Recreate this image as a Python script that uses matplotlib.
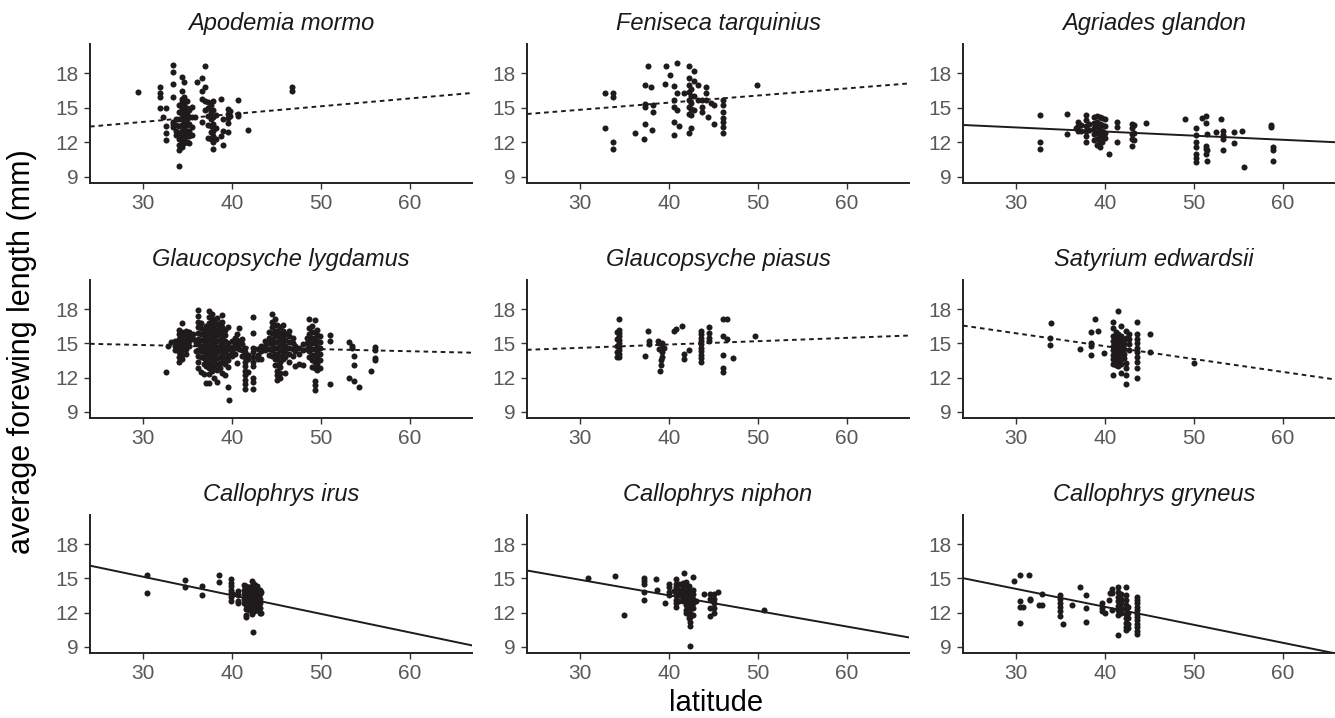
import numpy as np
import matplotlib.pyplot as plt

plt.rcParams['font.family'] = ['Liberation Sans', 'DejaVu Sans']

# species shown in each facet (row by row)
species = ["Apodemia mormo", "Feniseca tarquinius", "Agriades glandon",
           "Glaucopsyche lygdamus", "Glaucopsyche piasus", "Satyrium edwardsii",
           "Callophrys irus", "Callophrys niphon", "Callophrys gryneus"]

# fitted line per species: intercept (at latitude 0) and slope
fit_intercept = [11.73, 12.97, 14.36, 15.39, 13.73, 19.26, 20.01, 18.96, 18.79]
fit_slope = [0.068, 0.0619, -0.0358, -0.0181, 0.0291, -0.1128, -0.1626, -0.1365, -0.1574]
significant = [False, False, True, False, False, False, True, True, True]

# points: (latitude, [forewing lengths at that latitude])
apodemia = [
    (29.4, [16.4]), (31.9, [16.8, 16.3, 15.9, 15.0]), (32.2, [14.2]),
    (32.6, [15.0, 13.4, 12.8, 12.2]), (33.3, [18.7, 18.1, 17.1, 15.9, 13.8, 13.6, 13.3]),
    (33.7, [14.0, 13.5, 13.0, 12.6]),
    (34.0, [15.2, 14.6, 14.0, 13.4, 12.8, 12.3, 11.8, 11.3, 9.9]),
    (34.3, [17.7, 16.5, 15.8, 15.5, 15.0, 14.5, 14.0, 13.5, 13.0, 12.5, 12.0, 11.6]),
    (34.6, [17.2, 15.9, 15.3, 14.8, 14.3, 13.8, 13.3, 12.8, 12.3, 11.9]),
    (34.9, [15.6, 15.0, 14.5, 14.0, 13.5, 13.0, 12.5, 12.0]),
    (35.2, [14.8, 14.2, 13.6, 13.0, 12.5, 11.9]), (35.5, [15.1, 14.2, 13.3, 12.6]),
    (35.8, [14.2]), (36.0, [17.2]), (36.6, [17.6, 16.5, 15.8, 13.8]),
    (37.0, [18.6, 16.8, 15.6, 14.8]), (37.3, [15.5, 15.0, 14.3, 13.5, 12.4]),
    (37.6, [15.2, 14.6, 14.0, 13.4, 12.9, 12.3]),
    (37.9, [15.6, 14.8, 14.2, 13.6, 13.0, 12.5, 12.0, 11.4]), (38.2, [14.4, 13.2, 12.3]),
    (38.7, [15.8, 12.5]), (39.0, [14.0, 13.0, 11.8]), (39.5, [14.9, 14.5, 14.1, 13.7, 12.9]),
    (39.8, [14.7, 14.3]), (40.7, [15.7, 14.5, 14.3]), (41.8, [13.1]), (46.7, [16.8, 16.5]),
]
feniseca = [
    (32.8, [16.3, 13.25]), (33.7, [16.3, 15.9, 12.0, 11.4]), (36.2, [12.8]),
    (37.2, [12.3]), (37.3, [17.0, 15.3, 15.1, 13.6]), (37.6, [18.6]),
    (38.0, [16.8]), (38.1, [13.05]), (38.2, [15.2, 14.65]), (39.5, [17.1]),
    (39.7, [18.6]), (40.1, [17.85]), (40.6, [16.9, 15.7, 15.1, 13.8, 12.6]),
    (40.9, [18.9, 16.25, 14.8]), (41.1, [13.4]), (41.7, [16.25]),
    (42.2, [18.6, 17.55, 17.0, 16.4, 15.7, 15.1, 14.5, 12.8]),
    (42.5, [16.6, 16.0, 15.4, 14.9, 14.4, 13.2]), (42.8, [18.2, 17.3, 16.0, 14.8]),
    (43.3, [17.0, 15.7]), (43.7, [15.7, 15.1, 14.6]), (44.2, [16.8, 16.25, 15.7]),
    (44.4, [14.2]), (44.7, [15.4]), (45.1, [15.2, 13.6]),
    (46.1, [15.7, 15.2, 14.6, 14.1, 13.8, 13.3, 12.8]), (49.9, [17.0]),
]
agriades = [
    (32.7, [14.4, 12.0, 11.4]), (35.7, [14.5, 12.75]), (36.7, [13.2]),
    (37.0, [13.8, 13.4, 13.0]), (37.3, [13.5, 13.0]), (37.9, [14.4, 13.9, 13.4, 13.0, 12.5, 12.0]),
    (38.2, [13.6, 13.1]), (38.8, [14.2, 13.7, 13.2, 12.7, 12.2]),
    (39.1, [14.3, 13.8, 13.3, 12.8, 12.3, 11.8]), (39.4, [14.2, 13.6, 13.1, 12.6, 12.1, 11.6]),
    (39.7, [14.1, 13.5, 13.0, 12.5, 12.0]), (40.0, [14.0, 13.4, 12.8, 12.4]),
    (40.4, [11.0]), (41.3, [13.8, 13.3, 12.0]), (43.0, [13.6, 13.2, 12.7, 12.3, 11.7]),
    (43.3, [13.5, 12.8, 12.2]), (44.6, [13.7]), (49.0, [14.0]),
    (50.2, [13.2, 12.6, 12.0, 11.6, 11.0, 10.6, 10.3]), (50.9, [14.1]),
    (51.3, [11.7, 11.4, 11.0]), (51.4, [14.3, 13.7]), (51.5, [12.7, 11.3, 10.4]),
    (52.5, [12.9]), (53.0, [14.0]), (53.3, [13.0, 12.6, 12.3, 11.3]),
    (54.5, [12.85, 11.9]), (55.4, [13.0]), (55.6, [9.85]),
    (58.7, [13.5, 13.3]), (58.9, [11.6, 11.3, 10.4]),
]
lygdamus = [
    (32.6, [12.5]), (32.8, [14.8]), (33.1, [15.1]), (33.6, [15.2, 14.8, 14.4]),
    (34.0, [16.2, 15.8, 15.4, 15.0, 14.6, 14.2, 13.8, 13.4]),
    (34.4, [16.8, 16.0, 15.6, 15.2, 14.8, 14.4, 14.0, 13.6]),
    (34.8, [16.1, 15.7, 15.3, 14.9, 14.5, 14.1]), (35.2, [16.0, 15.6, 15.2, 14.8]),
    (35.6, [15.8, 15.4]), (35.9, [15.0, 14.3]),
    (36.2, [17.9, 17.4, 16.9, 16.4, 15.9, 15.4, 14.9, 14.4, 13.9, 13.4, 12.8]),
    (36.5, [16.8, 16.3, 15.8, 15.3, 14.8, 14.3, 13.8, 12.5]),
    (36.8, [16.2, 15.7, 15.2, 14.7, 14.2, 13.7, 13.2, 12.3]),
    (37.1, [16.5, 16.0, 15.5, 15.0, 14.5, 14.0, 13.5, 13.0, 11.5]),
    (37.4, [17.8, 17.3, 16.8, 16.3, 15.8, 15.3, 14.8, 14.3, 13.8, 13.3, 12.8, 12.3, 11.5]),
    (37.7, [17.6, 17.1, 16.6, 16.1, 15.6, 15.1, 14.6, 14.1, 13.6, 13.1, 12.6]),
    (38.0, [17.0, 16.5, 16.0, 15.5, 15.0, 14.5, 14.0, 13.5, 13.0, 12.0]),
    (38.3, [17.2, 16.7, 16.2, 15.7, 15.2, 14.7, 14.2, 13.7, 13.2, 12.7, 11.6]),
    (38.6, [16.8, 16.3, 15.8, 15.3, 14.8, 14.3, 13.8, 13.3, 12.8]),
    (38.9, [17.5, 16.9, 16.4, 15.9, 15.4, 14.9, 14.4, 13.9, 13.4, 12.4]),
    (39.2, [16.2, 15.7, 15.2, 14.7, 14.2, 13.7, 13.2, 12.2]),
    (39.5, [16.4, 15.0, 14.5, 14.0, 13.5, 12.9, 11.2]), (39.7, [10.05]),
    (40.0, [15.2, 14.7, 14.2, 13.9]), (40.3, [15.5, 15.0, 14.6, 14.1]),
    (40.6, [15.8, 15.3, 14.8, 13.3]), (40.8, [16.3, 15.0, 14.5]),
    (41.1, [15.4, 14.9, 14.4, 13.9]),
    (41.5, [14.6, 14.2, 13.8, 13.4, 13.0, 12.6, 12.2, 11.8, 11.4, 11.0]),
    (41.8, [14.0, 13.6, 12.5]),
    (42.4, [17.3, 15.9, 14.6, 14.2, 13.8, 13.4, 13.0, 12.0, 11.6, 11.0]),
    (42.9, [14.5, 14.0, 13.6]), (43.3, [14.8, 14.3, 13.6]), (43.7, [15.2, 14.8, 14.4]),
    (44.2, [16.0, 15.5, 15.0, 14.5, 14.0]),
    (44.5, [17.6, 16.9, 16.4, 15.9, 15.4, 14.9, 14.4, 13.9]),
    (44.8, [17.1, 16.6, 16.1, 15.6, 15.1, 14.6, 14.1, 13.6, 13.1]),
    (45.1, [16.6, 16.1, 15.6, 15.1, 14.6, 14.1, 13.6, 13.1, 12.6, 12.2, 11.8]),
    (45.4, [16.4, 15.9, 15.4, 14.9, 14.4, 13.9, 13.4, 12.9, 12.4, 12.0]),
    (45.7, [16.6, 16.1, 15.6, 15.1, 14.6, 14.1, 13.6]),
    (46.0, [15.8, 15.3, 14.8, 14.3, 13.8, 12.4]),
    (46.4, [16.1, 15.6, 15.1, 14.6, 14.1, 13.4]), (46.8, [15.5, 15.0, 14.5, 13.9]),
    (47.1, [14.8, 14.3, 13.0]), (47.5, [14.6, 14.1, 13.2]), (48.0, [14.9, 14.4, 13.1]),
    (48.4, [15.5, 15.0, 14.5]), (48.7, [17.1, 16.3, 15.8, 15.3, 14.8, 14.3, 13.8]),
    (49.0, [16.5, 16.0, 15.5, 15.0, 14.5, 14.0, 13.5, 12.9]),
    (49.3, [17.0, 16.0, 15.5, 15.0, 14.5, 14.0, 13.4, 12.8, 11.7, 11.3, 10.9]),
    (49.6, [16.2, 15.7, 15.2, 14.7, 14.2, 13.7, 13.2, 12.7]),
    (49.9, [15.6, 15.1, 14.6, 14.1, 13.5, 12.8]),
    (51.0, [15.7, 15.2, 11.4]), (53.2, [15.1, 12.0]), (53.5, [14.8, 14.6]),
    (53.7, [13.9, 13.1, 11.7]), (54.3, [11.15]), (55.6, [12.6]),
    (56.1, [14.65, 14.4, 13.7, 13.5]),
]
piasus = [
    (34.1, [16.0, 15.4, 14.8, 14.2, 13.8]),
    (34.3, [17.1, 16.2, 15.9, 15.6, 15.3, 15.0, 14.7, 14.4, 14.1, 13.8]),
    (37.3, [13.9]), (37.6, [16.1]), (37.7, [15.2, 14.9]), (38.7, [15.2]),
    (38.9, [15.0, 14.5]), (39.0, [12.55]), (39.1, [13.5, 13.1]),
    (39.2, [15.0, 14.6, 14.2, 13.8]), (39.4, [14.6]), (40.6, [16.1]), (40.8, [16.25]),
    (41.4, [16.5]), (41.7, [14.1, 13.6]), (42.2, [14.4]),
    (43.6, [16.1, 15.8, 15.5, 15.2, 14.9, 14.6, 14.3, 14.0, 13.7, 13.4]),
    (44.5, [16.4, 15.9, 15.5, 15.2]), (46.1, [17.1, 15.6, 14.0, 12.8, 12.5]),
    (46.5, [17.1, 15.4]), (47.2, [13.7]), (49.7, [15.6]),
]
satyrium = [
    (33.8, [15.5, 14.85]), (33.9, [16.8]), (37.2, [14.5]), (38.4, [16.0, 15.0, 14.8, 14.0]),
    (38.9, [17.1]), (39.2, [16.1]), (39.9, [14.15]),
    (40.9, [16.9, 16.3, 15.6, 15.2, 14.8, 14.4, 14.0, 13.6, 13.2, 12.25]),
    (41.2, [16.0, 15.5, 15.1, 14.7, 14.3, 13.9, 13.5, 13.1]),
    (41.4, [17.8]), (41.5, [15.8, 15.4, 15.0, 14.6, 14.2, 13.8, 13.4, 13.0]),
    (41.8, [16.55, 15.6, 15.2, 14.8, 14.4, 14.0, 13.6, 13.2, 12.4]),
    (42.1, [15.3, 14.9, 14.5, 14.1, 13.7]),
    (42.4, [16.1, 15.5, 13.3, 12.8, 12.2, 11.45]), (42.7, [15.8, 15.4, 14.9, 14.4]),
    (43.6, [16.9, 15.8, 15.4, 15.0, 14.6, 14.2, 13.8, 13.4, 12.85, 12.0]),
    (45.1, [15.8, 14.2]), (50.0, [13.25]),
]
irus = [
    (30.4, [15.3, 13.75]), (34.7, [14.85, 14.2]), (36.6, [14.35, 13.5]), (38.5, [15.3, 14.7]),
    (39.9, [14.9, 14.6, 14.3, 14.0, 13.7, 13.4, 13.0]), (40.1, [13.6]),
    (40.7, [13.9, 13.5, 13.0, 12.8]), (41.3, [14.4, 14.0, 13.6, 13.2, 12.8]),
    (41.6, [14.3, 13.9, 13.5, 13.1, 12.7, 12.3, 11.8, 11.6]),
    (41.9, [14.2, 13.8, 13.4, 13.0, 12.6, 12.2]),
    (42.2, [14.8, 14.3, 13.9, 13.5, 13.1, 12.7, 12.3, 11.9]), (42.3, [10.3]),
    (42.5, [14.5, 14.1, 13.7, 13.3, 12.9, 12.5, 12.1]),
    (42.8, [14.3, 13.9, 13.5, 13.1, 12.7, 12.2]),
    (43.1, [14.0, 13.6, 13.2, 12.8, 12.4, 12.0]), (43.3, [13.8, 12.0]),
]
niphon = [
    (30.9, [15.0]), (33.9, [15.2]), (34.9, [11.8]), (37.2, [15.0, 14.8, 14.5, 13.8, 13.1]),
    (38.5, [14.9]), (38.6, [13.95]), (39.5, [12.8]), (40.0, [14.5, 14.2, 13.8, 13.5]),
    (40.6, [13.9]), (40.8, [14.9, 14.5, 14.2, 13.8, 13.5, 13.1, 12.8, 12.5]),
    (41.1, [14.5, 14.0, 13.5, 13.0]), (41.6, [14.6, 14.2, 13.8, 13.4, 13.0]), (41.7, [15.5]),
    (41.9, [14.7, 14.3, 13.9, 13.5, 13.1, 12.7, 12.2, 12.0]),
    (42.2, [14.3, 13.9, 13.5, 13.1, 12.7, 12.3, 11.9, 11.5]),
    (42.4, [13.6, 13.2, 12.8, 12.4, 12.0, 11.6, 11.2, 10.8, 9.1]),
    (42.7, [15.1, 14.0, 13.6, 13.2, 12.8, 12.4, 11.8]), (43.0, [13.0]), (43.9, [13.6]),
    (44.6, [13.6, 13.2, 12.4, 11.7]), (45.0, [13.6, 13.2, 12.8, 12.4, 12.0]),
    (45.5, [13.8]), (50.7, [12.2]),
]
gryneus = [
    (29.7, [14.8]), (30.4, [15.3, 13.05, 12.5, 11.1]), (30.8, [12.5]), (31.4, [15.3]),
    (31.5, [13.2, 13.1]), (32.6, [12.7]), (32.9, [13.6, 12.7]),
    (34.9, [13.5, 13.2, 12.8, 12.5, 12.1, 11.7]), (35.3, [10.95]), (36.3, [12.7]),
    (37.2, [14.2]), (37.8, [13.5, 12.4, 11.2]), (39.6, [12.8, 12.4, 12.1]), (40.0, [12.0]),
    (40.4, [13.1]), (40.5, [13.7]), (40.8, [14.05, 13.7, 12.2]),
    (41.5, [14.2, 13.8, 13.4, 13.0, 12.6, 12.2, 11.8, 10.0]),
    (41.8, [13.6, 13.2, 12.8, 12.4, 12.0]),
    (42.4, [14.2, 13.5, 13.1, 12.7, 12.3, 11.9, 11.5, 11.1, 10.7, 10.5]),
    (42.6, [12.5, 12.0, 11.5, 11.0, 10.6]),
    (43.6, [13.4, 13.1, 12.8, 12.5, 12.2, 11.9, 11.6, 11.3, 11.0, 10.7, 10.4, 10.1]),
]
points = [apodemia, feniseca, agriades, lygdamus, piasus, satyrium, irus, niphon, gryneus]

x_ticks = [30, 40, 50, 60]
y_ticks = [9, 12, 15, 18]

fig = plt.figure(figsize=(13.35, 7.18), dpi=100)
W, H = 1335.0, 718.0

left_px = [90, 527, 963]
top_px = [44, 280, 515]
bottom_px = [183, 418, 653]
panel_w = 382

for i in range(9):
    r, c = divmod(i, 3)
    ax = fig.add_axes([left_px[c] / W, 1 - bottom_px[r] / H,
                       panel_w / W, (bottom_px[r] - top_px[r]) / H])
    lat = [x for x, ys in points[i] for _ in ys]
    fwl = [y for _, ys in points[i] for y in ys]
    ax.scatter(lat, fwl, s=19, color='#1f1a1b', linewidths=0, zorder=2)

    ax.set_xlim(24, 67)
    ax.set_ylim(8.45, 20.55)
    xs = np.array(ax.get_xlim())
    ls = '-' if significant[i] else (0, (2.4, 2.0))
    ax.plot(xs, fit_intercept[i] + fit_slope[i] * xs, color='#1f1a1b',
            lw=1.4, linestyle=ls, zorder=3)

    ax.set_xticks(x_ticks)
    ax.set_yticks(y_ticks)
    for side in ['top', 'right']:
        ax.spines[side].set_visible(False)
    for side in ['left', 'bottom']:
        ax.spines[side].set_linewidth(1.4)
        ax.spines[side].set_color('#222222')
    ax.tick_params(axis='both', length=4, width=1.0, color='#333333',
                   labelcolor='#595959', labelsize=15, pad=4)
    ax.set_title(species[i], fontsize=17, style='italic', color='#1a1a1a', pad=10)

fig.text(22 / W, 1 - 352 / H, 'average forewing length (mm)', rotation=90,
         ha='center', va='center', fontsize=22)
fig.text(716 / W, 7 / H, 'latitude', ha='center', va='baseline', fontsize=21)

fig.savefig('out.png', dpi=100)
